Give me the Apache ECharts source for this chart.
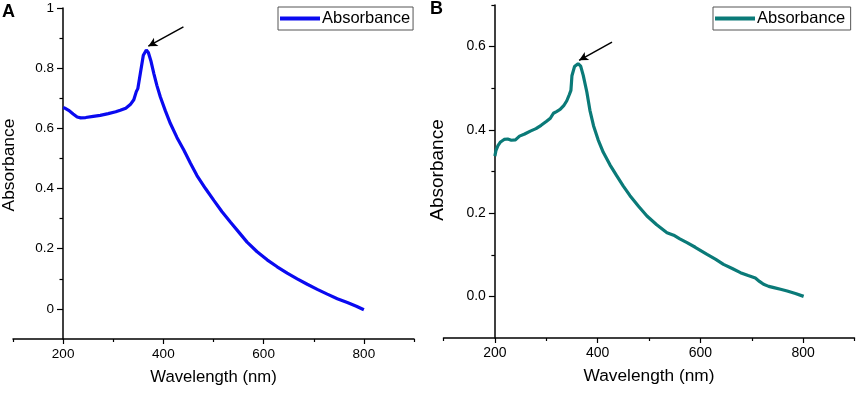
<!DOCTYPE html>
<html>
<head>
<meta charset="utf-8">
<script src="https://cdn.jsdelivr.net/npm/echarts@6/dist/echarts.min.js"></script>
<style>html,body{margin:0;padding:0;background:#fff}#c{width:858px;height:393px}</style>
</head>
<body>
<div id="c"></div>
<script>
// ---- data ----
const xMajorTicks = [200, 400, 600, 800];
const xMinorTicks = [100, 300, 500, 700, 900];
const yMajorTicksA = [0, 0.2, 0.4, 0.6, 0.8, 1];
const yMinorTicksA = [0.1, 0.3, 0.5, 0.7, 0.9];
const yMajorTicksB = [0, 0.2, 0.4, 0.6];
const yMinorTicksB = [0.1, 0.3, 0.5, 0.7];
const seriesNameA = 'Absorbance';
const seriesNameB = 'Absorbance';
const dataA = [
  [200,0.669],[205,0.666],[211,0.660],[220,0.648],[228,0.638],[235,0.635],[245,0.636],[260,0.640],
  [274,0.643],[290,0.649],[305,0.655],[314,0.660],[325,0.667],[334,0.679],[341,0.695],[346,0.722],
  [349,0.732],[354,0.782],[360,0.843],[366,0.860],[370,0.852],[375,0.825],[381,0.782],[387,0.743],
  [394,0.704],[404,0.658],[414,0.616],[427,0.570],[441,0.527],[454,0.484],[467,0.443],[484,0.400],
  [501,0.360],[517,0.323],[534,0.288],[550,0.256],[567,0.222],[587,0.190],[607,0.163],[627,0.140],
  [647,0.119],[667,0.100],[687,0.082],[707,0.065],[727,0.049],[747,0.034],[767,0.021],[785,0.009],
  [800,-0.003]
];
const dataB = [
  [200,0.337],[202,0.350],[206,0.362],[211,0.371],[218,0.377],[225,0.378],[232,0.375],[240,0.376],
  [248,0.385],[258,0.390],[269,0.397],[280,0.403],[290,0.411],[300,0.420],[308,0.428],[314,0.440],
  [320,0.444],[327,0.449],[334,0.458],[340,0.470],[345,0.485],[348,0.495],[349,0.512],[350,0.530],
  [355,0.552],[362,0.559],[367,0.553],[372,0.531],[379,0.491],[385,0.447],[392,0.410],[401,0.376],
  [411,0.346],[424,0.316],[437,0.290],[450,0.265],[463,0.242],[480,0.216],[496,0.193],[515,0.172],
  [535,0.153],[548,0.147],[560,0.138],[574,0.129],[590,0.118],[613,0.101],[630,0.089],[645,0.077],
  [662,0.067],[678,0.057],[693,0.050],[707,0.044],[715,0.036],[723,0.029],[733,0.024],[743,0.021],
  [756,0.017],[769,0.013],[785,0.007],[801,0.000]
];
const arrowA = [[440, 0.937], [370, 0.873]];
const arrowB = [[428, 0.611], [364, 0.567]];

// ---- chart ----
const FONT = "'Liberation Sans', Arial, sans-serif";
const chart = echarts.init(document.getElementById('c'), null, {renderer: 'canvas'});
const axisLine = {show: true, onZero: false, lineStyle: {color: '#000', width: 1.5}};

function xAxes(grid, fs, nfs) {
  return [
    {type: 'value', gridIndex: grid, position: 'bottom', min: 100, max: 900,
     axisLine: axisLine, splitLine: {show: false},
     axisTick: {show: true, length: 5, lineStyle: {color: '#000', width: 1.2}, customValues: xMajorTicks},
     axisLabel: {color: '#000', fontFamily: FONT, fontSize: fs, margin: 8, customValues: xMajorTicks},
     name: 'Wavelength (nm)', nameLocation: 'middle', nameGap: 30,
     nameTextStyle: {color: '#000', fontFamily: FONT, fontSize: nfs}},
    {type: 'value', gridIndex: grid, position: 'bottom', min: 100, max: 900,
     axisLine: {show: false, onZero: false}, splitLine: {show: false}, axisLabel: {show: false},
     axisTick: {show: true, length: 3, lineStyle: {color: '#000', width: 1.2}, customValues: xMinorTicks}}
  ];
}
function yAxes(grid, max, majors, minors, fmt, off, fs, nfs, gap, pad) {
  return [
    {type: 'value', gridIndex: grid, position: 'left', min: -0.1, max: max, offset: off,
     axisLine: axisLine, splitLine: {show: false},
     axisTick: {show: true, length: 6, lineStyle: {color: '#000', width: 1.2}, customValues: majors},
     axisLabel: {color: '#000', fontFamily: FONT, fontSize: fs, margin: 9, customValues: majors, formatter: fmt},
     name: 'Absorbance', nameLocation: 'middle', nameGap: gap,
     nameTextStyle: {color: '#000', fontFamily: FONT, fontSize: nfs, padding: pad}},
    {type: 'value', gridIndex: grid, position: 'left', min: -0.1, max: max, offset: off,
     axisLine: {show: false, onZero: false}, splitLine: {show: false}, axisLabel: {show: false},
     axisTick: {show: true, length: 3.5, lineStyle: {color: '#000', width: 1.2}, customValues: minors}}
  ];
}

const arrowLine = (pts) => ({
  silent: true, symbol: ['none', 'arrow'], symbolSize: [7, 9],
  lineStyle: {color: '#000', width: 1.5, type: 'solid'}, label: {show: false},
  data: [[{coord: pts[0]}, {coord: pts[1]}]]
});

chart.setOption({
  animation: false,
  backgroundColor: '#fff',
  title: [
    {text: 'A', left: 2, top: 3, padding: 0, textStyle: {fontFamily: FONT, fontWeight: 'bold', fontSize: 18, color: '#000'}},
    {text: 'B', left: 430, top: 0, padding: 0, textStyle: {fontFamily: FONT, fontWeight: 'bold', fontSize: 18, color: '#000'}}
  ],
  legend: [
    {data: [seriesNameA], left: 278, top: 7, orient: 'horizontal', icon: 'rect', itemWidth: 40, itemHeight: 4,
     itemGap: 0, padding: [3, 3, 3, 2], borderColor: '#555', borderWidth: 1,
     textStyle: {fontFamily: FONT, fontSize: 16.5, color: '#000', padding: [0, 0, 0, -3]},
     selectedMode: false},
    {data: [seriesNameB + ' '], left: 713, top: 7, orient: 'horizontal', icon: 'rect', itemWidth: 40, itemHeight: 4,
     itemGap: 0, padding: [3, 1, 3, 2], borderColor: '#555', borderWidth: 1,
     textStyle: {fontFamily: FONT, fontSize: 16.5, color: '#000', padding: [0, 0, 0, -3]},
     selectedMode: false}
  ],
  grid: [
    {left: 13, top: 8, width: 401, height: 331, containLabel: false},
    {left: 443.5, top: 5, width: 411, height: 333, containLabel: false}
  ],
  xAxis: [...xAxes(0, 13.5, 16.7), ...xAxes(1, 14, 17.3)],
  yAxis: [
    ...yAxes(0, 1.0, yMajorTicksA, yMinorTicksA, (v) => String(+v.toFixed(1)), -50, 13.5, 17.4, 45, [0, 0, 0, 17]),
    ...yAxes(1, 0.7, yMajorTicksB, yMinorTicksB, (v) => v.toFixed(1), -51.4, 14, 19, 48, [0, 0, 0, 3])
  ],
  series: [
    {name: seriesNameA, type: 'line', xAxisIndex: 0, yAxisIndex: 0, data: dataA, showSymbol: false,
     symbol: 'none', smooth: false, lineStyle: {color: '#0a0af0', width: 3.2}, itemStyle: {color: '#0a0af0'},
     markLine: arrowLine(arrowA)},
    {name: seriesNameB + ' ', type: 'line', xAxisIndex: 2, yAxisIndex: 2, data: dataB, showSymbol: false,
     symbol: 'none', smooth: false, lineStyle: {color: '#0a7a78', width: 3.2}, itemStyle: {color: '#0a7a78'},
     markLine: arrowLine(arrowB)}
  ]
});
</script>
</body>
</html>
